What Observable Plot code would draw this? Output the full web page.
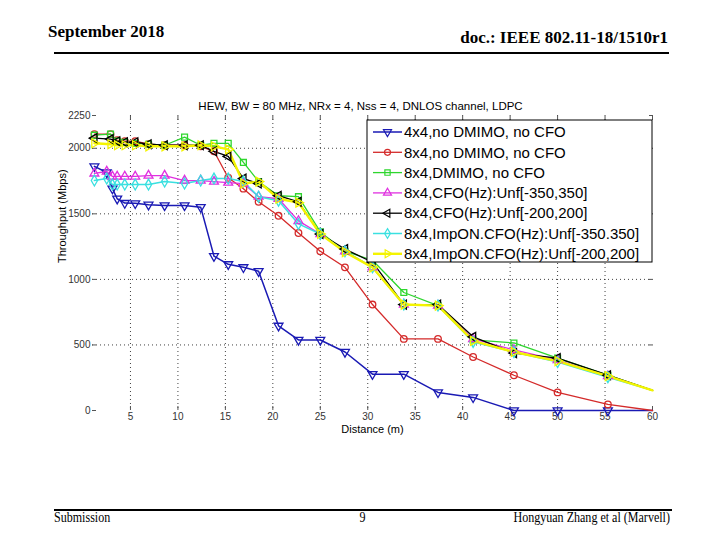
<!DOCTYPE html>
<html>
<head>
<meta charset="utf-8">
<script src="https://cdn.jsdelivr.net/npm/d3@7"></script>
<script src="https://cdn.jsdelivr.net/npm/@observablehq/plot@0.6"></script>
<style>
  html, body { margin: 0; padding: 0; background: #fff; }
  #page { position: relative; width: 720px; height: 540px; overflow: hidden; background: #fff; }
  #chart { position: absolute; left: 0; top: 0; }
  .hdr { position: absolute; font-family: "Liberation Serif", "DejaVu Serif", serif; font-weight: bold; font-size: 17px; color: #000; white-space: nowrap; }
  .ftr { position: absolute; font-family: "Liberation Serif", "DejaVu Serif", serif; font-size: 14px; color: #000; white-space: nowrap; transform: scaleX(0.86); }
  .rule { position: absolute; background: #000; }
</style>
</head>
<body>
<div id="page">
  <div id="chart"></div>
  <div class="hdr" style="left:48px; top:22px;">September 2018</div>
  <div class="hdr" style="right:52px; top:28px;">doc.: IEEE 802.11-18/1510r1</div>
  <div class="rule" style="left:54px; top:52px; width:615px; height:2px;"></div>
  <div class="rule" style="left:54px; top:509px; width:618px; height:2px;"></div>
  <div class="ftr" style="left:54px; top:510px; transform-origin:left top;">Submission</div>
  <div class="ftr" style="left:359px; top:510px;">9</div>
  <div class="ftr" style="right:50px; top:510px; transform-origin:right top;">Hongyuan Zhang et al (Marvell)</div>
</div>
<script>
// ---- data ----
const chartTitle = "HEW, BW = 80 MHz, NRx = 4, Nss = 4, DNLOS channel, LDPC";
const xLabel = "Distance (m)";
const yLabel = "Throughput (Mbps)";
const xTicks = [5, 10, 15, 20, 25, 30, 35, 40, 45, 50, 55, 60];
const yTicks = [0, 500, 1000, 1500, 2000, 2250];
const xGrid = [5, 10, 15, 20, 25, 30, 35, 40, 45, 50, 55];
const yGrid = [500, 1000, 1500, 2000];

// sample distances (m): grid A (26 points) and grid B (25 points)
const distanceA = [1.2, 2.5, 3.1, 3.6, 4.4, 5.5, 6.9, 8.6, 10.7, 12.4, 13.8, 15.3, 16.9, 18.5, 20.6, 22.7, 25, 27.6, 30.5, 33.8, 37.4, 41.1, 45.4, 50, 55.3, 60];
const distanceB = [1.2, 2.9, 3.6, 4.4, 5.5, 6.9, 8.6, 10.7, 12.4, 13.8, 15.3, 16.9, 18.5, 20.6, 22.7, 25, 27.6, 30.5, 33.8, 37.4, 41.1, 45.4, 50, 55.3, 60];

// throughput (Mbps)
const tput4x4NoDmimo = [1862, 1815, 1692, 1615, 1582, 1580, 1569, 1564, 1564, 1551, 1177, 1115, 1092, 1062, 646, 538, 538, 446, 277, 277, 138, 100, 0, 0, 0, 0];
const tput8x4NoDmimo = [2108, 2108, 2062, 2054, 2054, 2031, 2023, 2023, 2015, 1977, 1775, 1692, 1592, 1485, 1354, 1215, 1092, 808, 546, 546, 408, 269, 138, 46, 0];
const tput8x4Dmimo   = [2100, 2108, 2054, 2046, 2038, 2031, 2023, 2085, 2023, 2038, 2038, 1892, 1746, 1638, 1631, 1362, 1215, 1146, 900, 800, 538, 515, 400, 269, 154];
const tput8x4Cfo350  = [1808, 1823, 1785, 1785, 1785, 1785, 1792, 1792, 1754, 1754, 1746, 1738, 1731, 1631, 1615, 1446, 1346, 1215, 1092, 808, 800, 546, 462, 385, 262, 154];
const tput8x4Cfo200  = [2077, 2070, 2054, 2046, 2046, 2031, 2023, 2023, 2023, 1977, 1938, 1769, 1731, 1638, 1592, 1346, 1231, 1131, 808, 808, 562, 438, 400, 269, 154];
const tput8x4Imp350  = [1754, 1769, 1723, 1723, 1723, 1723, 1723, 1746, 1731, 1754, 1769, 1769, 1746, 1631, 1600, 1423, 1346, 1215, 1092, 808, 800, 523, 446, 369, 254, 154];
const tput8x4Imp200  = [2038, 2031, 2023, 2023, 2023, 2015, 2015, 2015, 2023, 2015, 1992, 1731, 1746, 1615, 1585, 1346, 1208, 1092, 808, 800, 531, 446, 377, 262, 154];

const seriesNames = [
  "4x4,no DMIMO, no CFO",
  "8x4,no DMIMO, no CFO",
  "8x4,DMIMO, no CFO",
  "8x4,CFO(Hz):Unf[-350,350]",
  "8x4,CFO(Hz):Unf[-200,200]",
  "8x4,ImpON.CFO(Hz):Unf[-350.350]",
  "8x4,ImpON.CFO(Hz):Unf[-200,200]"
];
const seriesValues = [tput4x4NoDmimo, tput8x4NoDmimo, tput8x4Dmimo, tput8x4Cfo350, tput8x4Cfo200, tput8x4Imp350, tput8x4Imp200];
const seriesColors = ["#1a1ab4", "#d42a2a", "#2ed62e", "#e030e0", "#000000", "#3ae0e0", "#f4f400"];
const seriesSymbols = ["triangle", "circle", "square", "triangle", "triangle", "diamond", "triangle"];
const seriesRotate = [180, 0, 0, 0, -90, 0, 90];
const seriesWidth = [1.5, 1.3, 1.3, 1.3, 1.3, 1.5, 2.4];

// ---- build rows ----
const rows = [];
seriesValues.forEach((vals, i) => {
  const xs = vals.length === distanceA.length ? distanceA : distanceB;
  vals.forEach((v, j) => rows.push({series: i, d: xs[j], v}));
});

const lineMarks = [];
const dotMarks = [];
for (let i = 0; i < seriesNames.length; i++) {
  const data = rows.filter(r => r.series === i);
  lineMarks.push(Plot.line(data, {x: "d", y: "v", stroke: seriesColors[i], strokeWidth: seriesWidth[i]}));
  dotMarks.push(Plot.dot(data.filter(r => r.d < 60), {
    x: "d", y: "v", symbol: seriesSymbols[i], rotate: seriesRotate[i],
    stroke: seriesColors[i], fill: "none", r: 3.3, strokeWidth: 1.3
  }));
}

const font = "Liberation Sans, Arial, sans-serif";

const chart = Plot.plot({
  width: 720,
  height: 540,
  marginLeft: 92,
  marginRight: 68,
  marginTop: 115,
  marginBottom: 130,
  style: {fontFamily: font, background: "transparent", overflow: "visible"},
  x: {domain: [1, 60], axis: null},
  y: {domain: [0, 2250], axis: null},
  marks: [
    Plot.gridX(xGrid, {stroke: "#000", strokeOpacity: 0.75, strokeDasharray: "1,3"}),
    Plot.gridY(yGrid, {stroke: "#000", strokeOpacity: 0.75, strokeDasharray: "1,3"}),
    Plot.axisX(xTicks, {anchor: "bottom", label: null, tickSize: -4, tickPadding: 6, fontSize: 10, fill: "#333", stroke: "#555"}),
    Plot.axisX(xTicks, {anchor: "top", label: null, tickSize: -4, tickFormat: () => "", stroke: "#555"}),
    Plot.axisY(yTicks, {anchor: "left", label: null, tickSize: -4, tickPadding: 6, fontSize: 10, fill: "#333", stroke: "#555", tickFormat: d => String(d)}),
    Plot.axisY(yTicks, {anchor: "right", label: null, tickSize: -4, tickFormat: () => "", stroke: "#555"}),
    ...lineMarks,
    ...dotMarks,
    Plot.text([chartTitle], {frameAnchor: "top", lineAnchor: "bottom", dy: -6, dx: -12, fontSize: 11.5, fill: "#000"}),
    Plot.text([xLabel], {frameAnchor: "bottom", lineAnchor: "top", dy: 15, fontSize: 11, fill: "#000"}),
    Plot.text([yLabel], {frameAnchor: "left", rotate: -90, dx: -30, fontSize: 11, fill: "#000"})
  ]
});
document.getElementById("chart").appendChild(chart);

// ---- legend (inside the upper right of the axes) ----
const svg = d3.select(chart);
const lg = svg.append("g").attr("transform", "translate(367,120)").attr("text-anchor", "start");
lg.append("rect").attr("x", 0).attr("y", 0).attr("width", 285).attr("height", 142)
  .attr("fill", "#fff").attr("stroke", "#000").attr("stroke-width", 1);
const symMap = {triangle: d3.symbolTriangle, circle: d3.symbolCircle, square: d3.symbolSquare, diamond: d3.symbolDiamond};
seriesNames.forEach((name, i) => {
  const y = 12 + i * 20.3;
  const g = lg.append("g").attr("transform", `translate(0,${y})`);
  g.append("line").attr("x1", 6).attr("x2", 35).attr("y1", 0).attr("y2", 0)
    .attr("stroke", seriesColors[i]).attr("stroke-width", seriesWidth[i]);
  g.append("path").attr("d", d3.symbol(symMap[seriesSymbols[i]], 28)())
    .attr("transform", `translate(20.5,0) rotate(${seriesRotate[i]})`)
    .attr("fill", "none").attr("stroke", seriesColors[i]).attr("stroke-width", 1.2);
  g.append("text").attr("x", 37).attr("y", 0).attr("dy", "0.35em").attr("text-anchor", "start")
    .attr("font-family", font).attr("font-size", 15).attr("fill", "#000").text(name);
});
</script>
</body>
</html>
